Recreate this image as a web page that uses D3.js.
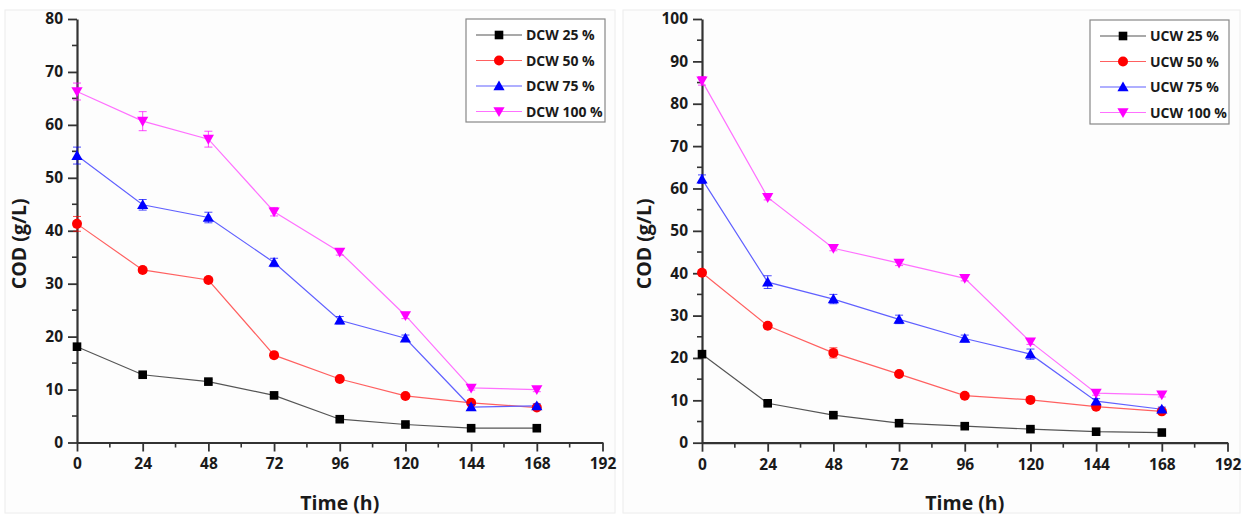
<!DOCTYPE html>
<html><head><meta charset="utf-8">
<script src="https://cdn.jsdelivr.net/npm/d3@7"></script>
<style>
html,body{margin:0;padding:0;background:#fff;}
svg{display:block;font-family:"Open Sans",Lato,sans-serif;}
</style></head><body>
<svg id="chart" width="1243" height="517"></svg>
<script>
// ---- data ----
const times = [0, 24, 48, 72, 96, 120, 144, 168];
const xTicks = [0, 24, 48, 72, 96, 120, 144, 168, 192];

const dcwNames = ["DCW 25 %", "DCW 50 %", "DCW 75 %", "DCW 100 %"];
const dcw25  = [18.1, 12.8, 11.5, 8.9, 4.4, 3.4, 2.7, 2.7];
const dcw50  = [41.3, 32.6, 30.7, 16.5, 12.0, 8.8, 7.5, 6.6];
const dcw75  = [54.2, 44.9, 42.5, 34.0, 23.1, 19.7, 6.7, 6.9];
const dcw100 = [66.3, 60.7, 57.3, 43.6, 36.0, 24.0, 10.3, 10.0];
const dcw25Err  = [0.5, 0.4, 0.4, 0.3, 0.3, 0.2, 0.2, 0.2];
const dcw50Err  = [1.4, 0.5, 0.5, 0.5, 0.4, 0.3, 0.3, 0.3];
const dcw75Err  = [1.6, 1.0, 1.0, 0.8, 0.7, 0.6, 0.5, 0.4];
const dcw100Err = [1.6, 1.8, 1.5, 0.8, 0.6, 0.6, 0.4, 0.4];
const dcwYTicks = [0, 10, 20, 30, 40, 50, 60, 70, 80];

const ucwNames = ["UCW 25 %", "UCW 50 %", "UCW 75 %", "UCW 100 %"];
const ucw25  = [20.9, 9.3, 6.5, 4.6, 3.9, 3.2, 2.6, 2.4];
const ucw50  = [40.1, 27.6, 21.2, 16.2, 11.1, 10.1, 8.5, 7.4];
const ucw75  = [62.2, 37.9, 33.9, 29.1, 24.6, 20.9, 9.8, 7.9];
const ucw100 = [85.4, 57.9, 45.9, 42.4, 38.8, 23.8, 11.7, 11.3];
const ucw25Err  = [0.6, 0.5, 0.4, 0.3, 0.3, 0.3, 0.2, 0.2];
const ucw50Err  = [0.6, 0.5, 1.2, 0.5, 0.4, 0.4, 0.4, 0.3];
const ucw75Err  = [1.0, 1.5, 1.1, 1.0, 0.8, 1.2, 0.6, 0.5];
const ucw100Err = [1.0, 0.6, 0.6, 0.6, 0.6, 0.6, 0.5, 0.5];
const ucwYTicks = [0, 10, 20, 30, 40, 50, 60, 70, 80, 90, 100];

const markerColors = ["#000000", "#ff0000", "#0000ff", "#ff00ff"];
const lineColors   = ["#555555", "#ff6060", "#6060ff", "#ff70ff"];
const shapes = ["square", "circle", "triangleUp", "triangleDown"];

const svg = d3.select("#chart");
const FONT = "'Open Sans', Lato, sans-serif";

function marker(g, shape, color) {
  if (shape === "square") {
    g.append("rect").attr("x", -4.3).attr("y", -4.3).attr("width", 8.6).attr("height", 8.6).attr("fill", color);
  } else if (shape === "circle") {
    g.append("circle").attr("r", 5).attr("fill", color);
  } else if (shape === "triangleUp") {
    g.append("path").attr("d", "M0,-5.5L5.6,4.3L-5.6,4.3Z").attr("fill", color);
  } else {
    g.append("path").attr("d", "M0,5.5L5.6,-4.3L-5.6,-4.3Z").attr("fill", color);
  }
}

function panel(cfg) {
  const g = svg.append("g");
  g.append("rect").attr("x", cfg.frame[0]).attr("y", cfg.frame[1])
    .attr("width", cfg.frame[2]).attr("height", cfg.frame[3])
    .attr("fill", "#fdfdfd").attr("stroke", "#ececec");

  const x = d3.scaleLinear().domain([0, 192]).range([cfg.x0, cfg.x1]);
  const y = d3.scaleLinear().domain([0, cfg.yMax]).range([cfg.yBottom, cfg.yTop]);

  const axisColor = "#333";
  const xMinor = d3.range(12, 192, 24);
  const yMinor = d3.range(5, cfg.yMax, 10);
  g.append("g").selectAll("line").data(xMinor).join("line")
    .attr("x1", d => x(d)).attr("x2", d => x(d))
    .attr("y1", cfg.yBottom).attr("y2", cfg.yBottom + 5)
    .attr("stroke", axisColor).attr("stroke-width", 1.6);
  g.append("g").selectAll("line").data(yMinor).join("line")
    .attr("y1", d => y(d)).attr("y2", d => y(d))
    .attr("x1", cfg.x0).attr("x2", cfg.x0 - 5)
    .attr("stroke", axisColor).attr("stroke-width", 1.6);

  const xAxis = d3.axisBottom(x).tickValues(xTicks).tickSize(9).tickPadding(4).tickSizeOuter(0);
  const yAxis = d3.axisLeft(y).tickValues(cfg.yTicks).tickSize(9).tickPadding(5).tickSizeOuter(0);
  const gx = g.append("g").attr("transform", `translate(0,${cfg.yBottom})`).call(xAxis);
  const gy = g.append("g").attr("transform", `translate(${cfg.x0},0)`).call(yAxis);
  [gx, gy].forEach(a => {
    a.select(".domain").attr("stroke", axisColor).attr("stroke-width", 2.2);
    a.selectAll(".tick line").attr("stroke", axisColor).attr("stroke-width", 1.8);
    a.selectAll(".tick text").attr("fill", "#1a1a1a").attr("font-size", 15.5)
      .attr("font-weight", "bold").attr("font-family", FONT);
  });
  gx.selectAll(".tick text").attr("dy", "0.9em");

  g.append("text").attr("x", (cfg.x0 + cfg.x1) / 2).attr("y", cfg.yBottom + 67.5)
    .attr("text-anchor", "middle").attr("font-size", 19.5).attr("font-weight", "bold")
    .attr("fill", "#1a1a1a").text("Time (h)");
  g.append("text")
    .attr("transform", `translate(${cfg.x0 - 51.5},${(cfg.yTop + cfg.yBottom) / 2 + 13}) rotate(-90)`)
    .attr("text-anchor", "middle").attr("font-size", 19.5).attr("font-weight", "bold")
    .attr("fill", "#1a1a1a").text("COD (g/L)");

  const line = d3.line().x(d => x(d[0])).y(d => y(d[1]));

  cfg.series.forEach((vals, i) => {
    const pts = times.map((t, k) => [t, vals[k]]);
    g.append("path").datum(pts).attr("d", line).attr("fill", "none")
      .attr("stroke", lineColors[i]).attr("stroke-width", 1.2);
  });
  cfg.series.forEach((vals, i) => {
    const errs = cfg.errors[i];
    const eg = g.append("g");
    times.forEach((t, k) => {
      const cx = x(t), yt = y(vals[k] + errs[k]), yb = y(vals[k] - errs[k]);
      eg.append("line").attr("x1", cx).attr("x2", cx).attr("y1", yt).attr("y2", yb)
        .attr("stroke", markerColors[i]).attr("stroke-width", 1).attr("opacity", 0.7);
      [yt, yb].forEach(yy => eg.append("line").attr("x1", cx - 4).attr("x2", cx + 4)
        .attr("y1", yy).attr("y2", yy).attr("stroke", markerColors[i]).attr("stroke-width", 1).attr("opacity", 0.7));
    });
    times.forEach((t, k) => {
      const mg = g.append("g").attr("transform", `translate(${x(t)},${y(vals[k])})`);
      marker(mg, shapes[i], markerColors[i]);
    });
  });

  const L = cfg.legend;
  const lg = g.append("g");
  lg.append("rect").attr("x", L.x).attr("y", L.y).attr("width", L.w).attr("height", L.h)
    .attr("fill", "#fff").attr("stroke", "#888").attr("stroke-width", 1.2);
  cfg.names.forEach((name, i) => {
    const yy = L.y + 16 + i * 25.5;
    lg.append("line").attr("x1", L.x + 10).attr("x2", L.x + 56).attr("y1", yy).attr("y2", yy)
      .attr("stroke", lineColors[i]).attr("stroke-width", 1.1);
    const mg = lg.append("g").attr("transform", `translate(${L.x + 33},${yy})`);
    marker(mg, shapes[i], markerColors[i]);
    lg.append("text").attr("x", L.x + 60).attr("y", yy).attr("dy", "0.36em")
      .attr("font-size", 14).attr("font-weight", "bold").attr("fill", "#1a1a1a").text(name);
  });
}

panel({
  frame: [5, 10, 610, 503],
  x0: 77, x1: 602.5, yTop: 19, yBottom: 442.5, yMax: 80, yTicks: dcwYTicks,
  series: [dcw25, dcw50, dcw75, dcw100],
  errors: [dcw25Err, dcw50Err, dcw75Err, dcw100Err],
  names: dcwNames,
  legend: {x: 466, y: 19, w: 139, h: 103}
});
panel({
  frame: [623, 10, 617, 503],
  x0: 702, x1: 1227.5, yTop: 19, yBottom: 442.7, yMax: 100, yTicks: ucwYTicks,
  series: [ucw25, ucw50, ucw75, ucw100],
  errors: [ucw25Err, ucw50Err, ucw75Err, ucw100Err],
  names: ucwNames,
  legend: {x: 1090, y: 20, w: 139, h: 104}
});
</script>
</body></html>
